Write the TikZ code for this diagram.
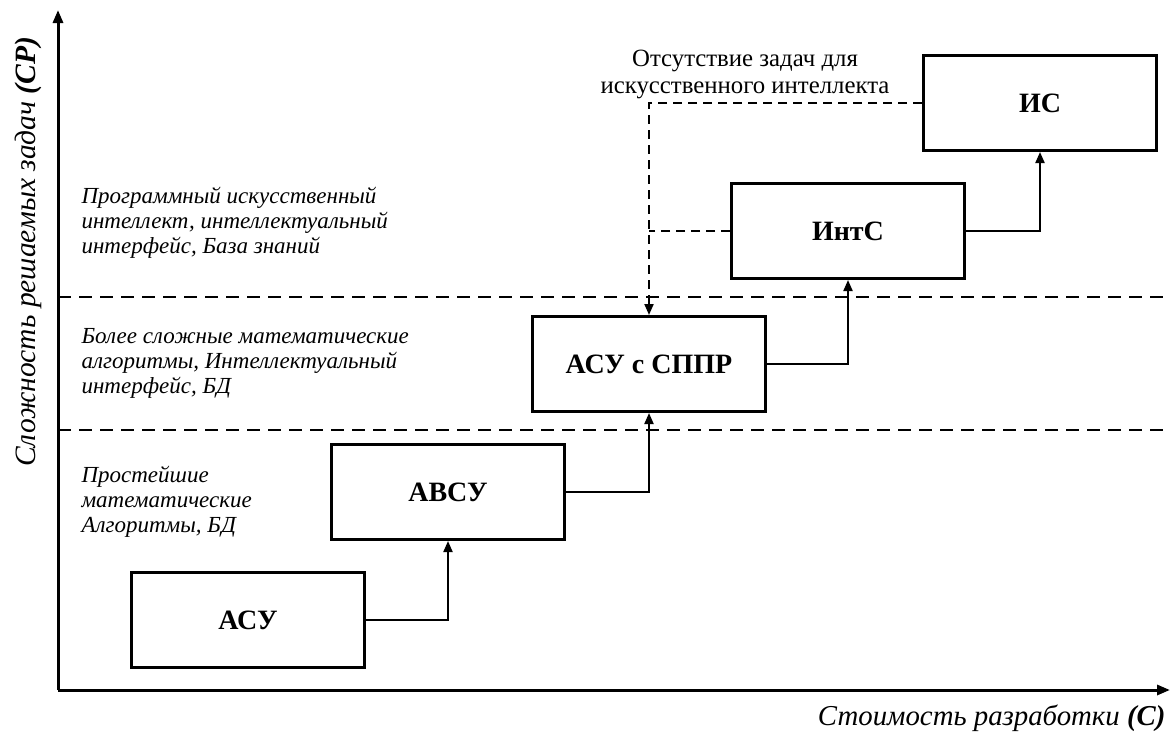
\documentclass[tikz,border=0pt]{standalone}
\usepackage{fontspec}
\setmainfont{Liberation Serif}
\usetikzlibrary{arrows.meta}

\tikzset{
  sysbox/.style={draw, line width=3pt, minimum width=233pt, minimum height=95pt,
    font=\fontsize{28}{32}\selectfont\bfseries},
  conn/.style={line width=2pt, -{Triangle[length=11pt,width=9pt]}},
  dconn/.style={line width=2pt, dash pattern=on 9pt off 6pt},
  band/.style={line width=2pt, dash pattern=on 13pt off 8pt},
  axis/.style={line width=3pt, -{Triangle[length=13pt,width=10pt]}},
  levtext/.style={anchor=west, align=left, font=\fontsize{23}{25}\selectfont\itshape}
}

\begin{document}
\begin{tikzpicture}[x=1pt, y=-1pt]
    \useasboundingbox (0,0) rectangle (1171,734);

    % axes
    \coordinate (o) at (58,690);
    \coordinate (ytop) at (58,10);
    \coordinate (xend) at (1170,690);
    \draw[axis] (o) -- (ytop);
    \draw[axis] (o) -- (xend);
    \node[rotate=90, font=\fontsize{29.5}{34}\selectfont\itshape] (ylab) at (28,252)
        {Сложность решаемых задач \textbf{(СР)}};
    \node[anchor=east, font=\fontsize{28.8}{33}\selectfont\itshape] (xlab) at (1169,718)
        {Стоимость разработки \textbf{(С)}};

    % levels
    \draw[band] (58,297) -- (1171,297);
    \draw[band] (58,430) -- (1171,430);
    \node[levtext] (lev3) at (78,223) {Программный искусственный\\интеллект, интеллектуальный\\интерфейс, База знаний};
    \node[levtext] (lev2) at (78,363) {Более сложные математические\\алгоритмы, Интеллектуальный\\интерфейс, БД};
    \node[levtext] (lev1) at (78,502) {Простейшие\\математические\\Алгоритмы, БД};

    % systems
    \node[sysbox] (asu) at (248,620) {АСУ};
    \node[sysbox] (avsu) at (448,492) {АВСУ};
    \node[sysbox] (asuspr) at (649,364) {АСУ с СППР};
    \node[sysbox] (ints) at (848,231) {ИнтС};
    \node[sysbox] (is) at (1040,103) {ИС};

    \draw[conn] (asu.east) -| (avsu.south);
    \draw[conn] (avsu.east) -| (asuspr.south);
    \draw[conn] (asuspr.east) -| (ints.south);
    \draw[conn] (ints.east) -| (is.south);

    % no tasks for AI
    \node[align=center, font=\fontsize{24.8}{27}\selectfont] (note) at (745,74)
        {Отсутствие задач для\\искусственного интеллекта};
    \draw[dconn, -{Triangle[length=11pt,width=9pt]}] (is.west) -| (asuspr.north);
    \draw[dconn] (ints.west) -- (ints.west -| asuspr.north);
\end{tikzpicture}
\end{document}
